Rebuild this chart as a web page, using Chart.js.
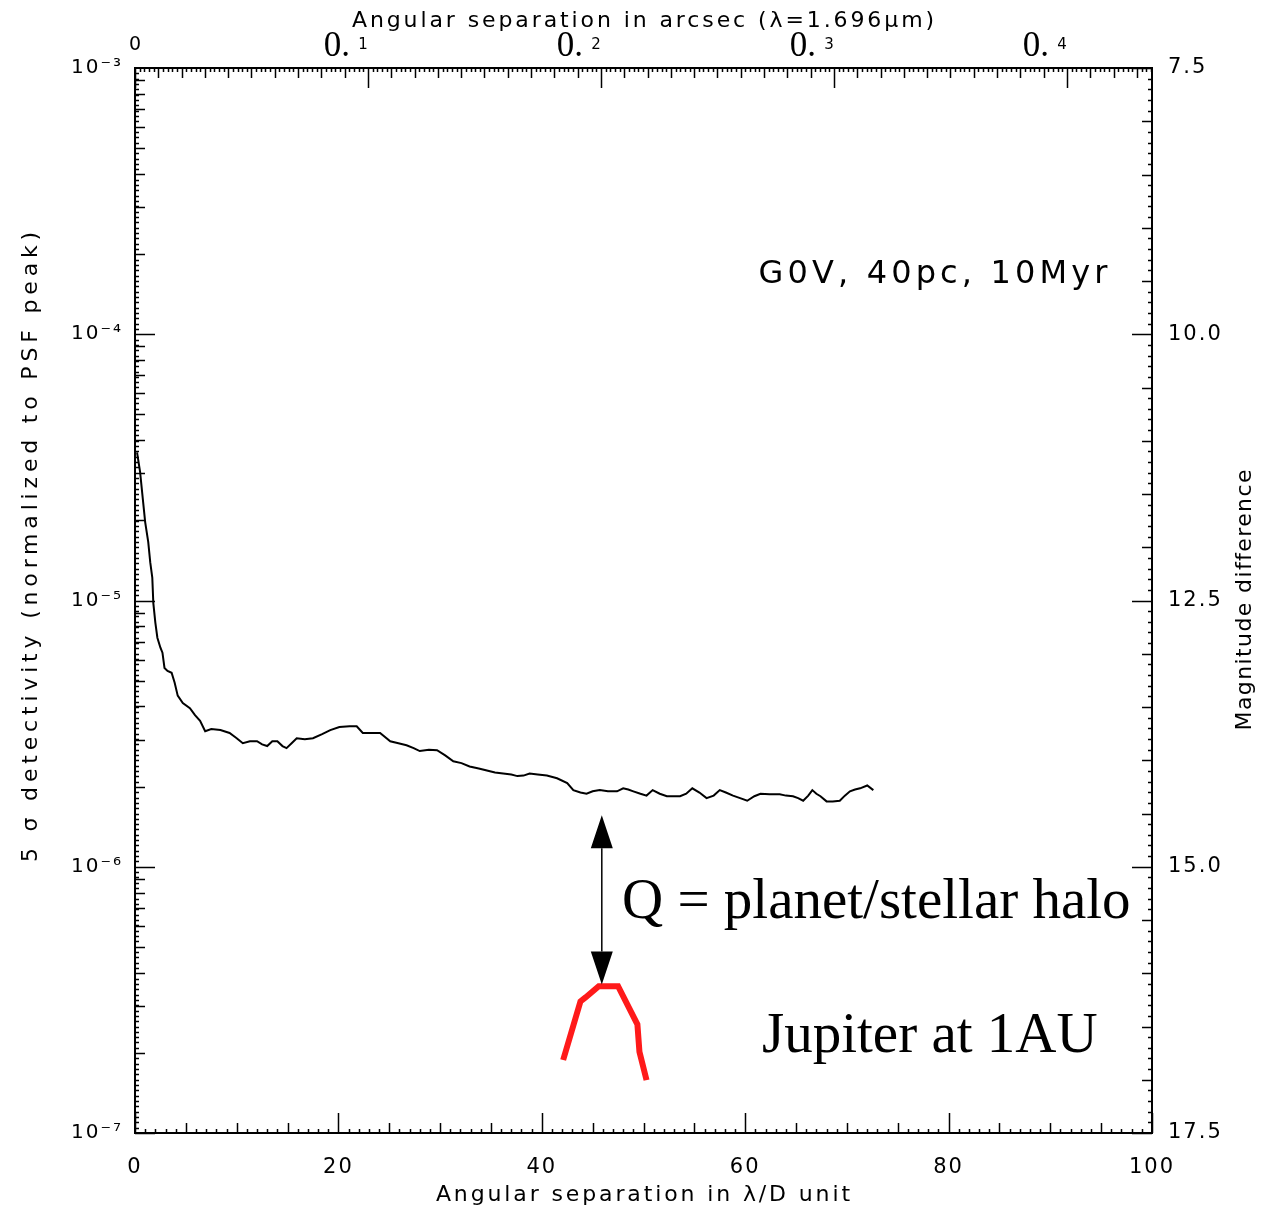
<!DOCTYPE html>
<html>
<head>
<meta charset="utf-8">
<script src="https://cdn.jsdelivr.net/npm/chart.js@4.4.1/dist/chart.umd.min.js"></script>
<style>
  html, body { margin: 0; padding: 0; background: #fff; }
</style>
</head>
<body>
<canvas id="myChart" width="1266" height="1211"></canvas>
<script>
// separation in lambda/D and 5-sigma detectivity (normalized to PSF peak)
const sepLD = [0.2, 0.5, 0.8, 1.0, 1.3, 1.5, 1.7, 1.8, 2.0, 2.2, 2.5, 2.7, 2.9, 3.2, 3.6, 3.9, 4.2, 4.7,
  5.4, 5.9, 6.4, 6.9, 7.5, 8.4, 9.3, 10.0, 10.6, 11.3, 12.0, 12.5, 13.0, 13.5, 14.0, 14.5, 14.9, 15.4,
  15.9, 16.7, 17.5, 18.4, 19.2, 20.1, 21.1, 21.8, 22.4, 23.2, 24.1, 25.1, 25.9, 26.7, 27.4, 28.0, 28.9,
  29.7, 30.5, 31.3, 32.1, 32.9, 33.8, 34.6, 35.4, 36.2, 37.0, 37.6, 38.2, 38.8, 39.6, 40.5, 41.5, 42.5,
  43.1, 43.8, 44.4, 45.0, 45.7, 46.5, 47.4, 48.0, 48.5, 49.0, 49.7, 50.3, 50.9, 51.6, 52.3, 53.0, 53.6,
  54.2, 54.8, 55.5, 56.2, 56.9, 57.5, 58.1, 58.8, 59.5, 60.2, 60.9, 61.5, 62.4, 63.4, 64.0, 64.7, 65.2,
  65.7, 66.2, 66.6, 67.0, 67.4, 68.0, 68.6, 69.3, 69.8, 70.3, 70.8, 71.3, 72.0, 72.6];
const detect = [3.60e-5, 3.04e-5, 2.34e-5, 1.97e-5, 1.66e-5, 1.39e-5, 1.22e-5, 9.8e-6, 8.26e-6, 7.25e-6,
  6.65e-6, 6.37e-6, 5.58e-6, 5.44e-6, 5.35e-6, 4.91e-6, 4.39e-6, 4.12e-6,
  3.94e-6, 3.71e-6, 3.53e-6, 3.23e-6, 3.29e-6, 3.26e-6, 3.18e-6, 3.04e-6, 2.91e-6, 2.96e-6, 2.96e-6,
  2.88e-6, 2.84e-6, 2.96e-6, 2.96e-6, 2.84e-6, 2.79e-6, 2.91e-6,
  3.04e-6, 3.01e-6, 3.04e-6, 3.15e-6, 3.26e-6, 3.35e-6, 3.37e-6, 3.37e-6, 3.18e-6, 3.18e-6, 3.18e-6,
  2.96e-6, 2.91e-6, 2.86e-6, 2.79e-6, 2.72e-6, 2.75e-6,
  2.74e-6, 2.62e-6, 2.49e-6, 2.45e-6, 2.38e-6, 2.34e-6, 2.30e-6, 2.26e-6, 2.24e-6, 2.22e-6, 2.19e-6,
  2.20e-6, 2.24e-6, 2.22e-6, 2.20e-6, 2.15e-6, 2.06e-6,
  1.94e-6, 1.90e-6, 1.88e-6, 1.92e-6, 1.94e-6, 1.92e-6, 1.92e-6, 1.97e-6, 1.95e-6, 1.92e-6, 1.88e-6,
  1.85e-6, 1.94e-6, 1.88e-6, 1.84e-6, 1.84e-6, 1.84e-6,
  1.88e-6, 1.97e-6, 1.90e-6, 1.81e-6, 1.85e-6, 1.94e-6, 1.90e-6, 1.85e-6, 1.81e-6, 1.77e-6, 1.84e-6,
  1.88e-6, 1.87e-6, 1.87e-6, 1.85e-6, 1.84e-6, 1.81e-6,
  1.77e-6, 1.85e-6, 1.94e-6, 1.88e-6, 1.84e-6, 1.76e-6, 1.76e-6, 1.77e-6, 1.85e-6, 1.92e-6, 1.95e-6,
  1.97e-6, 2.02e-6, 1.94e-6];

// Jupiter at 1AU (red)
const jupiterSep = [42.1, 43.8, 44.3, 45.6, 47.5, 49.4, 49.6, 50.3];
const jupiterFlux = [1.88e-7, 3.12e-7, 3.23e-7, 3.56e-7, 3.56e-7, 2.56e-7, 2.02e-7, 1.58e-7];

// double arrow between halo and planet
const arrowSep = 45.9;
const arrowTop = 1.56e-6;
const arrowBottom = 3.61e-7;

// axes
const sepTicks = [0, 20, 40, 60, 80, 100];
const detectTicks = [1e-7, 1e-6, 1e-5, 1e-4, 1e-3];
const detectTickLabels = ['10\u207B\u2077', '10\u207B\u2076', '10\u207B\u2075', '10\u207B\u2074', '10\u207B\u00B3'];
const magTicks = [7.5, 10.0, 12.5, 15.0, 17.5];
const arcsecTicks = [0, 0.1, 0.2, 0.3, 0.4];
const arcsecMax = 0.4365;

Chart.defaults.font.family = 'DejaVu Sans';
Chart.defaults.color = '#000';

function tickRange(from, to, step) {
  const out = [];
  for (let v = from; v <= to + step * 1e-6; v += step) out.push(Math.round(v / step) * step);
  return out;
}

function spacedText(ctx, text, x, y, width, font) {
  ctx.font = font;
  ctx.letterSpacing = '0px';
  const w = ctx.measureText(text).width;
  const sp = (width - w) / text.length;
  ctx.letterSpacing = sp + 'px';
  ctx.textAlign = 'center';
  ctx.textBaseline = 'middle';
  ctx.fillText(text, x + sp / 2, y);
  ctx.letterSpacing = '0px';
}

const frame = {
  id: 'frame',
  beforeDraw(chart) {
    const ctx = chart.ctx;
    ctx.save();
    ctx.fillStyle = '#fff';
    ctx.fillRect(0, 0, chart.width, chart.height);
    ctx.restore();
    ctx.letterSpacing = '2px';
  },
  afterDraw(chart) {
    const ctx = chart.ctx;
    const a = chart.chartArea;
    const sx = chart.scales.x, sx2 = chart.scales.x2, sy = chart.scales.y, sy2 = chart.scales.y2;
    ctx.save();
    ctx.letterSpacing = '0px';
    ctx.strokeStyle = '#000';
    ctx.fillStyle = '#000';

    // box
    ctx.lineWidth = 2;
    ctx.strokeRect(a.left, a.top, a.right - a.left, a.bottom - a.top);

    ctx.lineWidth = 1.5;
    ctx.beginPath();
    // bottom axis ticks
    tickRange(0, 100, 1).forEach(v => {
      const x = Math.round(sx.getPixelForValue(v)) + 0.5;
      const len = v % 20 === 0 ? 20 : (v % 5 === 0 ? 10 : 4);
      ctx.moveTo(x, a.bottom); ctx.lineTo(x, a.bottom - len);
    });
    // top axis ticks
    tickRange(0, 0.436, 0.002).forEach(v => {
      const x = Math.round(sx2.getPixelForValue(v)) + 0.5;
      const i = Math.round(v * 1000);
      const len = i % 100 === 0 ? 20 : (i % 10 === 0 ? 10 : 4);
      ctx.moveTo(x, a.top); ctx.lineTo(x, a.top + len);
    });
    // left axis (log) ticks
    for (let e = -7; e < -3; e++) {
      for (let k = 1; k <= 9; k++) {
        const y = Math.round(sy.getPixelForValue(k * Math.pow(10, e))) + 0.5;
        const len = k === 1 ? 20 : 10;
        ctx.moveTo(a.left, y); ctx.lineTo(a.left + len, y);
      }
      for (let f = 0.02; f < 1; f += 0.02) {
        const y = Math.round(sy.getPixelForValue(Math.pow(10, e + f))) + 0.5;
        ctx.moveTo(a.left, y); ctx.lineTo(a.left + 4, y);
      }
    }
    // right axis (magnitude) ticks
    tickRange(7.5, 17.5, 0.1).forEach(v => {
      const y = Math.round(sy2.getPixelForValue(v)) + 0.5;
      const i = Math.round(v * 10);
      const len = (i - 75) % 25 === 0 ? 20 : (i % 5 === 0 ? 10 : 4);
      ctx.moveTo(a.right, y); ctx.lineTo(a.right - len, y);
    });
    ctx.stroke();

    // top tick labels
    arcsecTicks.forEach(v => {
      const x = sx2.getPixelForValue(v);
      if (v === 0) {
        ctx.font = '19px DejaVu Sans';
        ctx.textAlign = 'center';
        ctx.textBaseline = 'middle';
        ctx.fillText('0', x, 45);
        return;
      }
      ctx.font = '35px Liberation Serif';
      ctx.textAlign = 'right';
      ctx.textBaseline = 'alphabetic';
      ctx.fillText('0.', x - 18, 56);
      ctx.font = '15px DejaVu Sans';
      ctx.textAlign = 'center';
      ctx.textBaseline = 'middle';
      ctx.fillText(String(Math.round(v * 10)), x - 5, 45);
    });

    // axis titles
    spacedText(ctx, 'Angular separation in arcsec (\u03BB=1.696\u03BCm)', 643, 21, 585, '22px DejaVu Sans');
    spacedText(ctx, 'Angular separation in \u03BB/D unit', 643, 1195, 417, '22px DejaVu Sans');
    ctx.save();
    ctx.translate(31, 547);
    ctx.rotate(-Math.PI / 2);
    spacedText(ctx, '5 \u03C3 detectivity (normalized to PSF peak)', 0, 0, 635, '22px DejaVu Sans');
    ctx.restore();
    ctx.save();
    ctx.translate(1245, 600);
    ctx.rotate(-Math.PI / 2);
    spacedText(ctx, 'Magnitude difference', 0, 0, 262, '22px DejaVu Sans');
    ctx.restore();

    // annotations
    spacedText(ctx, 'G0V, 40pc, 10Myr', 933, 275, 353, '32px DejaVu Sans');
    ctx.font = '57px Liberation Serif';
    ctx.textAlign = 'left';
    ctx.textBaseline = 'alphabetic';
    ctx.fillText('Q = planet/stellar halo', 622, 918);
    ctx.fillText('Jupiter at 1AU', 762, 1052);

    // double arrow
    const ax = sx.getPixelForValue(arrowSep);
    const yT = sy.getPixelForValue(arrowTop);
    const yB = sy.getPixelForValue(arrowBottom);
    const hl = 33, hw = 11;
    ctx.lineWidth = 1.5;
    ctx.beginPath();
    ctx.moveTo(ax, yT + hl); ctx.lineTo(ax, yB - hl);
    ctx.stroke();
    ctx.beginPath();
    ctx.moveTo(ax, yT); ctx.lineTo(ax - hw, yT + hl); ctx.lineTo(ax + hw, yT + hl); ctx.closePath();
    ctx.moveTo(ax, yB); ctx.lineTo(ax - hw, yB - hl); ctx.lineTo(ax + hw, yB - hl); ctx.closePath();
    ctx.fill();

    ctx.restore();
  }
};

const ctx = document.getElementById('myChart').getContext('2d');
const chart = new Chart(ctx, {
  type: 'scatter',
  data: {
    datasets: [{
      label: 'detectivity',
      data: sepLD.map((x, i) => ({ x: x, y: detect[i] })),
      showLine: true,
      borderColor: '#000',
      borderWidth: 2,
      pointRadius: 0,
      tension: 0,
      xAxisID: 'x',
      yAxisID: 'y'
    }, {
      label: 'Jupiter at 1AU',
      data: jupiterSep.map((x, i) => ({ x: x, y: jupiterFlux[i] })),
      showLine: true,
      borderColor: '#ff1a1a',
      borderWidth: 6,
      pointRadius: 0,
      tension: 0,
      xAxisID: 'x',
      yAxisID: 'y'
    }]
  },
  options: {
    responsive: false,
    animation: false,
    layout: { padding: 0 },
    plugins: { legend: { display: false }, tooltip: { enabled: false } },
    scales: {
      x: {
        type: 'linear', position: 'bottom', min: 0, max: 100,
        afterBuildTicks: s => { s.ticks = sepTicks.map(v => ({ value: v })); },
        afterFit: s => { s.height = 78; },
        grid: { display: false }, border: { display: false },
        ticks: { font: { size: 21 }, padding: 14, maxRotation: 0, autoSkip: false }
      },
      x2: {
        type: 'linear', position: 'top', min: 0, max: arcsecMax,
        afterFit: s => { s.height = 68; },
        grid: { display: false }, border: { display: false },
        ticks: { display: false }
      },
      y: {
        type: 'logarithmic', position: 'left', min: 1e-7, max: 1e-3,
        afterBuildTicks: s => { s.ticks = detectTicks.map(v => ({ value: v })); },
        afterFit: s => { s.width = 135; },
        grid: { display: false }, border: { display: false },
        ticks: {
          font: { size: 20 }, padding: 4, autoSkip: false,
          callback: (v, i) => detectTickLabels[i]
        }
      },
      y2: {
        type: 'linear', position: 'right', min: 7.5, max: 17.5, reverse: true,
        afterBuildTicks: s => { s.ticks = magTicks.map(v => ({ value: v })); },
        afterFit: s => { s.width = 114; },
        grid: { display: false }, border: { display: false },
        ticks: {
          font: { size: 21 }, padding: 8, autoSkip: false,
          callback: v => v.toFixed(1)
        }
      }
    }
  },
  plugins: [frame]
});
</script>
</body>
</html>
